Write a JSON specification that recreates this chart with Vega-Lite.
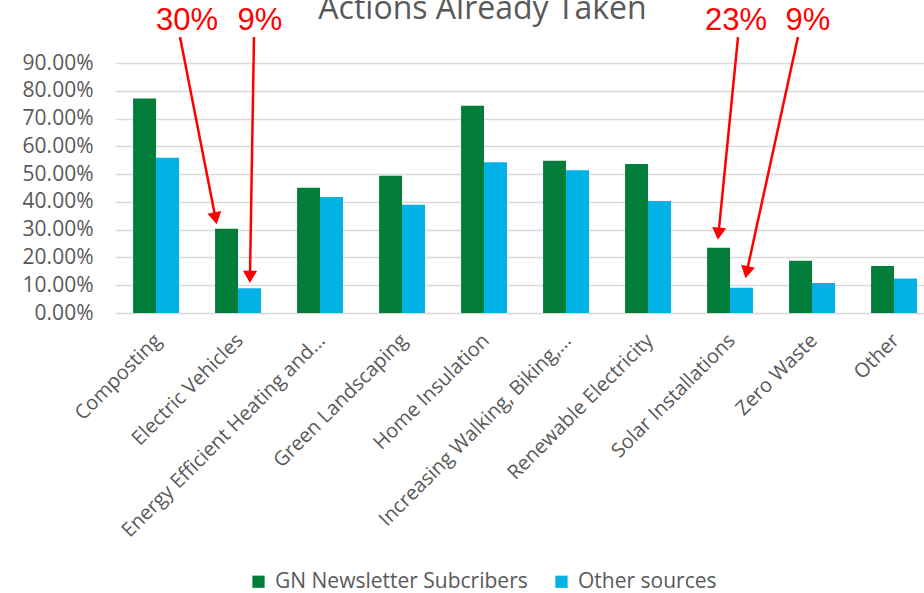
{
  "$schema": "https://vega.github.io/schema/vega-lite/v6.json",
  "width": 809,
  "height": 250,
  "autosize": {"type": "none"},
  "padding": {"left": 115, "top": 63, "right": 0, "bottom": 280},
  "background": "white",
  "config": {"view": {"stroke": null}, "font": "Open Sans"},
  "title": {"text": "Actions Already Taken", "fontSize": 32, "color": "#595959", "fontWeight": "normal", "anchor": "middle", "dx": -37, "offset": 0, "dy": 46, "baseline": "alphabetic", "font": "Open Sans"},
  "datasets": {
    "bars": [
      {"action": "Composting", "source": "GN Newsletter Subcribers", "share": 0.772},
      {"action": "Composting", "source": "Other sources", "share": 0.559},
      {"action": "Electric Vehicles", "source": "GN Newsletter Subcribers", "share": 0.303},
      {"action": "Electric Vehicles", "source": "Other sources", "share": 0.089},
      {"action": "Energy Efficient Heating and...", "source": "GN Newsletter Subcribers", "share": 0.451},
      {"action": "Energy Efficient Heating and...", "source": "Other sources", "share": 0.418},
      {"action": "Green Landscaping", "source": "GN Newsletter Subcribers", "share": 0.494},
      {"action": "Green Landscaping", "source": "Other sources", "share": 0.39},
      {"action": "Home Insulation", "source": "GN Newsletter Subcribers", "share": 0.746},
      {"action": "Home Insulation", "source": "Other sources", "share": 0.543},
      {"action": "Increasing Walking, Biking,...", "source": "GN Newsletter Subcribers", "share": 0.548},
      {"action": "Increasing Walking, Biking,...", "source": "Other sources", "share": 0.514},
      {"action": "Renewable Electricity", "source": "GN Newsletter Subcribers", "share": 0.536},
      {"action": "Renewable Electricity", "source": "Other sources", "share": 0.403},
      {"action": "Solar Installations", "source": "GN Newsletter Subcribers", "share": 0.235},
      {"action": "Solar Installations", "source": "Other sources", "share": 0.091},
      {"action": "Zero Waste", "source": "GN Newsletter Subcribers", "share": 0.188},
      {"action": "Zero Waste", "source": "Other sources", "share": 0.108},
      {"action": "Other", "source": "GN Newsletter Subcribers", "share": 0.169},
      {"action": "Other", "source": "Other sources", "share": 0.124}
    ],
    "notes": [
      {"label": "30%", "pos": 0.378, "level": 1.019},
      {"label": "9%", "pos": 1.268, "level": 1.019},
      {"label": "23%", "pos": 7.073, "level": 1.019},
      {"label": "9%", "pos": 7.951, "level": 1.019}
    ],
    "arrows": [
      {"x0": 0.293, "y0": 0.9935, "x1": 0.726, "y1": 0.341},
      {"x0": 1.195, "y0": 0.9935, "x1": 1.146, "y1": 0.13},
      {"x0": 7.098, "y0": 0.9935, "x1": 6.86, "y1": 0.2855},
      {"x0": 7.829, "y0": 0.9935, "x1": 7.204, "y1": 0.147}
    ]
  },
  "layer": [
    {
      "data": {"name": "bars"},
      "mark": {"type": "bar"},
      "encoding": {
        "x": {
          "field": "action", "type": "nominal", "sort": null,
          "scale": {"paddingInner": 0.44, "paddingOuter": 0.153, "align": 0.72},
          "axis": {"title": null, "labelAngle": -45, "labelFontSize": 20, "labelColor": "#595959", "domain": false, "ticks": false, "labelPadding": 17, "labelOffset": -5, "labelLimit": 400, "grid": false}
        },
        "xOffset": {"field": "source", "type": "nominal", "sort": ["GN Newsletter Subcribers", "Other sources"], "scale": {"paddingInner": 0, "paddingOuter": 0}},
        "y": {
          "field": "share", "type": "quantitative",
          "scale": {"domain": [0, 0.9], "nice": false},
          "axis": {"title": null, "format": ".2%", "values": [0, 0.1, 0.2, 0.3, 0.4, 0.5, 0.6, 0.7, 0.8, 0.9], "labelOverlap": false, "labelFontSize": 21, "labelColor": "#595959", "domain": false, "ticks": false, "labelPadding": 22, "gridColor": "#D9D9D9", "gridWidth": 1.5}
        },
        "color": {
          "field": "source", "type": "nominal",
          "scale": {"domain": ["GN Newsletter Subcribers", "Other sources"], "range": ["#037E3A", "#00B2E6"]},
          "legend": {"title": null, "orient": "none", "legendX": 133, "legendY": 508, "direction": "horizontal", "symbolType": "square", "symbolSize": 150, "symbolStrokeWidth": 0, "labelFontSize": 21, "labelColor": "#595959", "columnPadding": 23, "labelOffset": 6, "labelLimit": 400}
        }
      }
    },
    {
      "data": {"name": "arrows"},
      "mark": {"type": "rule", "color": "#FF0000", "strokeWidth": 2.5},
      "encoding": {
        "x": {"field": "x0", "type": "quantitative", "scale": {"domain": [-0.5, 9.366], "nice": false, "zero": false}, "axis": null},
        "y": {"field": "y0", "type": "quantitative", "scale": {"domain": [0, 0.9], "nice": false}, "axis": null},
        "x2": {"field": "x1"},
        "y2": {"field": "y1"}
      }
    },
    {
      "data": {"name": "arrows"},
      "transform": [{"calculate": "atan2(-(datum.x1 - datum.x0) * 82, (datum.y0 - datum.y1) * 277.8) * 180 / PI", "as": "angle"}],
      "mark": {"type": "point", "shape": "triangle-down", "filled": true, "color": "#FF0000", "size": 200, "opacity": 1},
      "encoding": {
        "x": {"field": "x1", "type": "quantitative", "scale": {"domain": [-0.5, 9.366], "nice": false, "zero": false}, "axis": null},
        "y": {"field": "y1", "type": "quantitative", "scale": {"domain": [0, 0.9], "nice": false}, "axis": null},
        "angle": {"field": "angle", "type": "quantitative", "scale": null}
      }
    },
    {
      "data": {"name": "notes"},
      "mark": {"type": "text", "color": "#FF0000", "fontSize": 31, "font": "Liberation Sans", "baseline": "alphabetic", "align": "center"},
      "encoding": {
        "x": {"field": "pos", "type": "quantitative", "scale": {"domain": [-0.5, 9.366], "nice": false, "zero": false}, "axis": null},
        "y": {"field": "level", "type": "quantitative", "scale": {"domain": [0, 0.9], "nice": false}, "axis": null},
        "text": {"field": "label"}
      }
    }
  ],
  "resolve": {"scale": {"x": "independent"}, "axis": {"y": "independent"}}
}
